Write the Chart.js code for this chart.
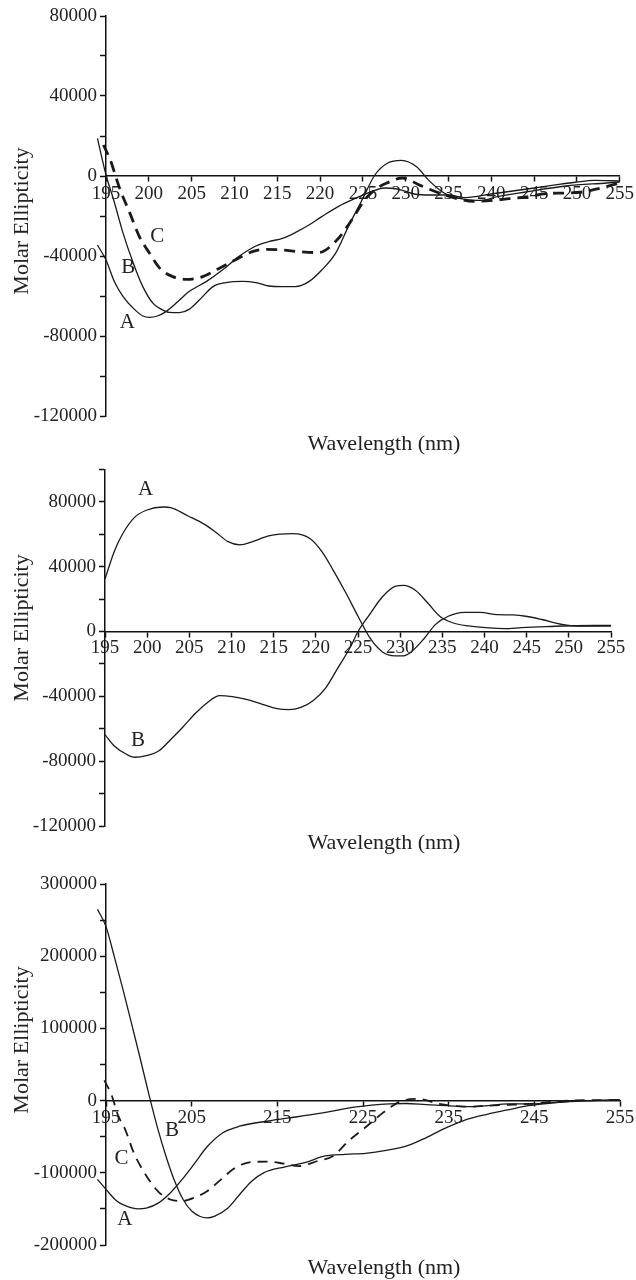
<!DOCTYPE html>
<html>
<head>
<meta charset="utf-8">
<script src="https://cdn.jsdelivr.net/npm/chart.js@4.4.0/dist/chart.umd.min.js"></script>
<style>
  body { margin: 0; background: #fff; }
  #wrap { position: relative; width: 636px; height: 1280px; }
  canvas { position: absolute; left: 0; }
</style>
</head>
<body>
<div id="wrap">
  <canvas id="c1" width="636" height="460" style="top:0px"></canvas>
  <canvas id="c2" width="636" height="400" style="top:455px"></canvas>
  <canvas id="c3" width="636" height="420" style="top:860px"></canvas>
</div>
<script>
// ---- panel 1 ----
const xTicks1 = [195, 200, 205, 210, 215, 220, 225, 230, 235, 240, 245, 250, 255];
const yTicks1 = [-120000, -100000, -80000, -60000, -40000, -20000, 0, 20000, 40000, 60000, 80000];
const yLabels1 = [-120000, -80000, -40000, 0, 40000, 80000];

const wl1A = [194, 195, 196, 197, 198.2, 199.3, 200.1, 201, 202, 203.4, 204.7, 206.7, 208.6, 210.5, 212.5, 214, 215.6, 217.1, 218.7, 220.2, 222.1, 224.1, 226, 227.5, 229, 231, 233, 235, 237, 240, 245, 250, 252, 255];
const el1A = [-34500, -42000, -53000, -60300, -66200, -70000, -70700, -70000, -67800, -62800, -57800, -52800, -47000, -40300, -35000, -32800, -31200, -28300, -24500, -20300, -15300, -11200, -7800, -6000, -6500, -9000, -9500, -9500, -10800, -9000, -6000, -3000, -2200, -2500];

const wl1B = [194, 195, 195.9, 197, 198.2, 199.3, 200.5, 201.5, 202.4, 203.6, 204.7, 205.9, 207.5, 209, 210.9, 212.5, 214, 215.6, 217.1, 218.7, 220.2, 221.8, 223.3, 224.9, 226.4, 227.9, 229.5, 231.3, 232.7, 234.6, 237, 238.8, 240.7, 244, 248.7, 253.5, 255];
const el1B = [18800, 500, -12000, -28700, -43700, -55300, -63700, -66700, -68200, -68300, -66700, -62000, -55300, -53300, -52700, -53300, -55000, -55300, -55300, -52800, -47000, -38700, -25300, -12000, 500, 6500, 7800, 4500, -2200, -8800, -11700, -12200, -10300, -8000, -5000, -3500, -3000];

const wl1C = [194.7, 195.5, 196.6, 197.8, 198.9, 200.1, 201.3, 202.8, 204.4, 206.3, 208.2, 210.2, 212.1, 213.6, 215.6, 217.5, 219.8, 221.8, 223.7, 225.2, 226.8, 227.9, 229.6, 231.7, 233.6, 236, 237.9, 240.2, 242.1, 244, 246.4, 248.7, 250.6, 252.5, 255];
const el1C = [15500, 8000, -6200, -18700, -30300, -38700, -46200, -50300, -51700, -50300, -46200, -41700, -37800, -36700, -37000, -37800, -38300, -32800, -22000, -12000, -5700, -3300, -1000, -4700, -8000, -11300, -12700, -12200, -11300, -10500, -8800, -8500, -8000, -6300, -3500];

const tags1 = ['A', 'B', 'C'];
const tagX1 = [197.5, 197.6, 201];
const tagY1 = [-73000, -45500, -30200];

// ---- panel 2 ----
const xTicks2 = xTicks1;
const yTicks2 = [-120000, -100000, -80000, -60000, -40000, -20000, 0, 20000, 40000, 60000, 80000, 100000];
const yLabels2 = [-120000, -80000, -40000, 0, 40000, 80000];

const wl2A = [195, 196.1, 197, 198.5, 199.9, 201.9, 202.8, 204.8, 206.7, 208.1, 209.6, 211, 212.5, 214.4, 217.3, 219.3, 220.7, 222.1, 223.6, 225, 226.5, 227.9, 229.4, 230.4, 231.3, 232.8, 234.2, 235.7, 237.6, 239.5, 241.5, 243.4, 244.9, 246.8, 249.2, 251.1, 255];
const el2A = [32400, 49400, 59400, 70400, 74800, 76800, 76400, 71400, 66400, 61400, 55400, 53400, 55400, 59000, 60400, 57400, 49400, 37400, 23400, 9400, -4600, -12600, -15000, -15000, -12600, -4600, 4400, 9400, 11800, 11800, 10400, 10200, 9400, 7400, 4400, 3400, 3400];

const wl2B = [195, 196.1, 197.5, 198.5, 199.9, 201.4, 202.8, 204.3, 205.7, 207.2, 208.6, 210.1, 211.5, 213.5, 215.4, 216.8, 218.3, 219.7, 221.2, 222.6, 224.1, 225, 226.5, 227.9, 229.4, 230.4, 231.8, 233.3, 234.7, 236.2, 238.1, 240.5, 242.4, 244.4, 246.3, 249.2, 255];
const el2B = [-63600, -70600, -75600, -77600, -76600, -73600, -66600, -58600, -50600, -43600, -39600, -40200, -41600, -44600, -47600, -48200, -46600, -42600, -34600, -22600, -9600, 0, 11400, 21400, 27800, 28400, 25400, 17400, 9400, 5400, 3400, 2200, 1800, 2400, 2800, 3400, 3800];

const tags2 = ['A', 'B'];
const tagX2 = [199.8, 198.9];
const tagY2 = [87800, -67200];

// ---- panel 3 ----
const xTicks3 = [195, 205, 215, 225, 235, 245, 255];
const yTicks3 = [-200000, -150000, -100000, -50000, 0, 50000, 100000, 150000, 200000, 250000, 300000];
const yLabels3 = [-200000, -100000, 0, 100000, 200000, 300000];

const wl3A = [194, 195, 196.3, 197.8, 198.7, 199.7, 201.1, 202.5, 203.9, 205.4, 206.8, 208.6, 210.6, 213.7, 216.4, 220.3, 224.2, 228.1, 230, 232.4, 234.8, 237.2, 239.6, 241.9, 244.3, 249.1, 255];
const el3A = [-109000, -123000, -139500, -148000, -150000, -149000, -142000, -128000, -109000, -86000, -64000, -44800, -35500, -28600, -24000, -17000, -8800, -4600, -4000, -5600, -7000, -8400, -7000, -4600, -4600, -1400, 900];

const wl3B = [194, 195, 196, 197, 198, 199, 200, 201, 202, 203, 204, 205, 206, 206.8, 207.7, 209.2, 210.6, 212, 213.4, 215.8, 218.2, 220.6, 222.9, 225.3, 227.7, 230.1, 232.4, 234.8, 237.2, 239.6, 241.9, 244.3, 246.7, 249.1, 251.4, 255];
const el3B = [265000, 241000, 198000, 153000, 106000, 58000, 9000, -37000, -77000, -111000, -137000, -153000, -160500, -162500, -160000, -149000, -130000, -111600, -100000, -92000, -86000, -76700, -74400, -73000, -69000, -62800, -51200, -37200, -25600, -18600, -13000, -7000, -3700, -900, 0, 900];

const wl3C = [194.8, 195.6, 196.4, 197.3, 198.2, 199.7, 201.1, 202.5, 203.9, 205.4, 206.8, 208.2, 210.1, 212, 213.9, 215.8, 217.5, 219.6, 221.5, 223.4, 225.3, 227.2, 228.6, 229.6, 231.5, 233.9, 237.2, 239.6, 244.3, 249.1, 255];
const el3C = [28000, 9300, -20000, -41800, -71000, -104000, -126000, -137000, -139000, -134000, -125600, -111600, -93000, -85000, -84600, -87400, -90700, -84000, -76700, -55000, -37000, -18000, -6000, 0, 2300, -4600, -8400, -7000, -4600, 0, 900];

const tags3 = ['B', 'C', 'A'];
const tagX3 = [202.7, 196.8, 197.2];
const tagY3 = [-41800, -80000, -165000];

Chart.defaults.font.family = '"Liberation Serif", "Times New Roman", serif';
Chart.defaults.color = '#222';

const pts = (xs, ys) => xs.map((x, i) => ({x: x, y: ys[i]}));

const panelText = {
  id: 'panelText',
  afterDraw(chart, args, opts) {
    const ctx = chart.ctx;
    const xs = chart.scales.x, ys = chart.scales.y;
    ctx.save();
    ctx.fillStyle = '#222';
    ctx.textAlign = 'center';
    ctx.textBaseline = 'middle';
    ctx.font = '21px "Liberation Serif"';
    opts.tags.forEach((t, i) => {
      ctx.fillText(t, xs.getPixelForValue(opts.tagX[i]), ys.getPixelForValue(opts.tagY[i]));
    });
    ctx.font = '22px "Liberation Serif"';
    ctx.fillText('Wavelength (nm)', opts.xTitle[0], opts.xTitle[1]);
    ctx.translate(opts.yTitle[0], opts.yTitle[1]);
    ctx.rotate(-Math.PI / 2);
    ctx.fillText('Molar Ellipticity', 0, 0);
    ctx.restore();
  }
};

function line(data, dash, width) {
  return {
    data: data,
    borderColor: '#1a1a1a',
    borderWidth: width || 1.3,
    borderDash: dash || [],
    pointRadius: 0,
    cubicInterpolationMode: 'monotone',
    clip: false,
    fill: false
  };
}

function makeChart(id, p) {
  const tickFont = {size: 19};
  return new Chart(document.getElementById(id), {
    type: 'line',
    data: { datasets: p.sets },
    options: {
      responsive: false,
      animation: false,
      layout: { padding: p.pad },
      plugins: {
        legend: { display: false },
        tooltip: { enabled: false },
        panelText: p.text
      },
      scales: {
        x: {
          type: 'linear',
          position: { y: 0 },
          min: 195, max: 255,
          afterBuildTicks: s => { s.ticks = p.xTicks.map(v => ({value: v})); },
          ticks: { callback: v => String(v), font: tickFont, color: '#222', padding: p.xPad, maxRotation: 0, autoSkip: false },
          grid: { drawOnChartArea: false, tickLength: 5, tickColor: '#111', tickWidth: 1.5 },
          border: { color: '#111', width: 1.5 }
        },
        y: {
          min: p.yTicks[0], max: p.yTicks[p.yTicks.length - 1],
          afterBuildTicks: s => { s.ticks = p.yTicks.map(v => ({value: v})); },
          afterFit: s => { s.width = p.yWidth; },
          ticks: { callback: v => p.yLabels.includes(v) ? String(v) : '', font: tickFont, color: '#222', padding: 3, autoSkip: false },
          grid: { drawOnChartArea: false, tickLength: 6, tickColor: '#111', tickWidth: 1.5 },
          border: { color: '#111', width: 1.5 }
        }
      }
    },
    plugins: [panelText]
  });
}

makeChart('c1', {
  sets: [line(pts(wl1A, el1A)), line(pts(wl1B, el1B)), line(pts(wl1C, el1C), [11, 7], 2.8)],
  pad: { left: 0, top: 16, right: 13, bottom: 44 },
  yWidth: 106, xTicks: xTicks1, yTicks: yTicks1, yLabels: yLabels1, xPad: 2,
  text: { xTitle: [384, 444], yTitle: [22, 221], tags: tags1, tagX: tagX1, tagY: tagY1 }
});

makeChart('c2', {
  sets: [line(pts(wl2A, el2A)), line(pts(wl2B, el2B))],
  pad: { left: 0, top: 10, right: 25, bottom: 29 },
  yWidth: 105, xTicks: xTicks2, yTicks: yTicks2, yLabels: yLabels2, xPad: 0,
  text: { xTitle: [384, 388], yTitle: [22, 173], tags: tags2, tagX: tagX2, tagY: tagY2 }
});

makeChart('c3', {
  sets: [line(pts(wl3A, el3A)), line(pts(wl3B, el3B)), line(pts(wl3C, el3C), [10, 7], 1.8)],
  pad: { left: 0, top: 24, right: 16, bottom: 35 },
  yWidth: 106, xTicks: xTicks3, yTicks: yTicks3, yLabels: yLabels3, xPad: 1,
  text: { xTitle: [384, 408], yTitle: [22, 180], tags: tags3, tagX: tagX3, tagY: tagY3 }
});
</script>
</body>
</html>
